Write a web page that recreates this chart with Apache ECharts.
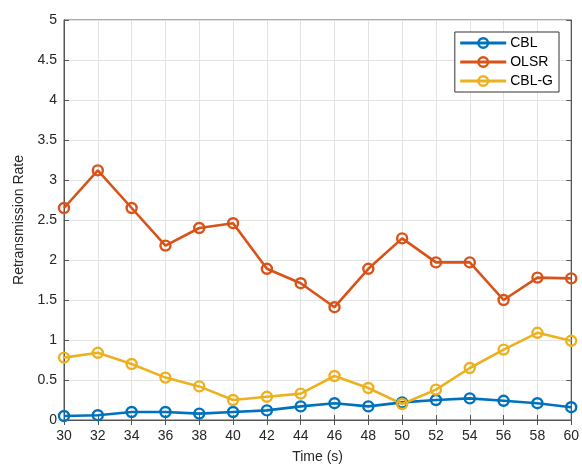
<!DOCTYPE html>
<html>
<head>
<meta charset="utf-8">
<script src="https://cdn.jsdelivr.net/npm/echarts@6/dist/echarts.min.js"></script>
<style>
  html, body { margin: 0; padding: 0; background: #fff; }
  #chart { width: 582px; height: 469px; }
</style>
</head>
<body>
<div id="chart"></div>
<script>
// x 轴时间
var times = [30, 32, 34, 36, 38, 40, 42, 44, 46, 48, 50, 52, 54, 56, 58, 60];
var cbl = [0.05, 0.06, 0.10, 0.10, 0.08, 0.10, 0.12, 0.17, 0.21, 0.17, 0.22, 0.25, 0.27, 0.24, 0.21, 0.16];
var olsr = [2.65, 3.12, 2.65, 2.18, 2.40, 2.46, 1.89, 1.71, 1.41, 1.89, 2.27, 1.97, 1.97, 1.50, 1.78, 1.77];
var cblg = [0.78, 0.84, 0.70, 0.53, 0.42, 0.25, 0.29, 0.33, 0.55, 0.40, 0.20, 0.38, 0.65, 0.88, 1.09, 0.99];
var names = ['CBL', 'OLSR', 'CBL-G'];
var colors = ['#0072BD', '#D95319', '#EDB120'];

function pairs(arr) {
  return times.map(function (t, i) { return [t, arr[i]]; });
}

function makeSeries(name, arr, color) {
  return {
    name: name,
    type: 'line',
    data: pairs(arr),
    symbol: 'circle',
    symbolSize: 10,
    lineStyle: { color: color, width: 2.6 },
    itemStyle: { color: 'rgba(255,255,255,0)', borderColor: color, borderWidth: 2.4 },
    emphasis: { disabled: true },
    z: 3
  };
}

var font = 'Liberation Sans, Arial, sans-serif';
var tickColor = '#262626';
var lineColor = '#555';

var mycharts = echarts.init(document.getElementById('chart'));
var options = {
  animation: false,
  textStyle: { fontFamily: font },
  grid: { left: 64, right: 10, top: 20, bottom: 48, show: true, borderColor: lineColor, borderWidth: 1 },
  legend: {
    data: names,
    orient: 'vertical',
    right: 23,
    top: 32,
    itemWidth: 46,
    itemHeight: 12,
    itemGap: 5,
    padding: [4, 6, 4, 4],
    backgroundColor: '#fff',
    borderColor: '#333',
    borderWidth: 1,
    borderRadius: 0,
    lineStyle: { width: 2.8 },
    itemStyle: { borderWidth: 2.4 },
    textStyle: { fontSize: 14, color: '#000', fontFamily: font, padding: [0, 0, 0, -1] }
  },
  xAxis: [{
    type: 'value',
    min: 30, max: 60, interval: 2,
    name: 'Time (s)',
    nameLocation: 'middle',
    nameGap: 30,
    nameTextStyle: { fontSize: 14, color: tickColor },
    axisLine: { show: true, onZero: false, lineStyle: { color: lineColor } },
    axisTick: { show: true, inside: true, length: 5, lineStyle: { color: lineColor } },
    axisLabel: { fontSize: 14, color: tickColor, margin: 9 },
    splitLine: { show: true, lineStyle: { color: '#e3e3e3' } }
  }, {
    type: 'value',
    position: 'top',
    min: 30, max: 60, interval: 2,
    axisLine: { show: true, lineStyle: { color: lineColor } },
    axisTick: { show: true, inside: true, length: 5, lineStyle: { color: lineColor } },
    axisLabel: { show: false },
    splitLine: { show: false }
  }],
  yAxis: [{
    type: 'value',
    min: 0, max: 5, interval: 0.5,
    name: 'Retransmission Rate',
    nameLocation: 'middle',
    nameGap: 36,
    nameTextStyle: { fontSize: 14, color: tickColor },
    axisLine: { show: true, lineStyle: { color: lineColor } },
    axisTick: { show: true, inside: true, length: 5, lineStyle: { color: lineColor } },
    axisLabel: { fontSize: 14, color: tickColor, margin: 7 },
    splitLine: { show: true, lineStyle: { color: '#e3e3e3' } }
  }, {
    type: 'value',
    position: 'right',
    min: 0, max: 5, interval: 0.5,
    axisLine: { show: true, lineStyle: { color: lineColor } },
    axisTick: { show: true, inside: true, length: 5, lineStyle: { color: lineColor } },
    axisLabel: { show: false },
    splitLine: { show: false }
  }],
  series: [
    makeSeries(names[0], cbl, colors[0]),
    makeSeries(names[1], olsr, colors[1]),
    makeSeries(names[2], cblg, colors[2])
  ]
};
mycharts.setOption(options);
</script>
</body>
</html>
